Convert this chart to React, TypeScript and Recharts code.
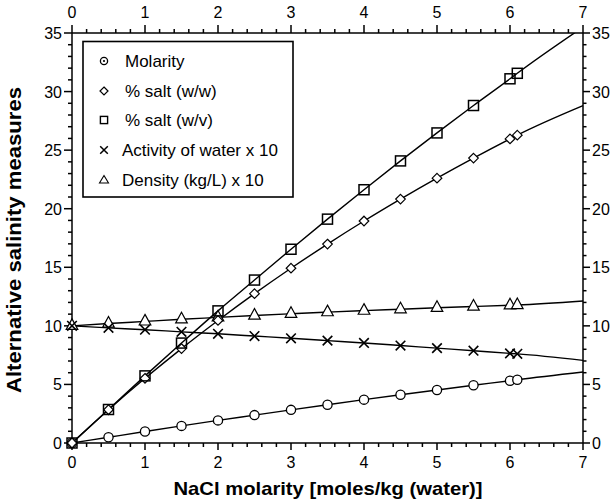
import React from 'react';
import { ComposedChart, Line, Scatter, XAxis, YAxis, Customized } from 'recharts';

// ---- data ----
const molality = [0, 0.5, 1, 1.5, 2, 2.5, 3, 3.5, 4, 4.5, 5, 5.5, 6, 6.1];
const molarity = [0, 0.49, 0.98, 1.46, 1.93, 2.38, 2.83, 3.27, 3.7, 4.12, 4.53, 4.93, 5.32, 5.4];
const saltWW = [0, 2.84, 5.52, 8.06, 10.46, 12.75, 14.92, 16.98, 18.95, 20.82, 22.61, 24.32, 25.96, 26.28];
const saltWV = [0, 2.86, 5.73, 8.53, 11.28, 13.91, 16.54, 19.11, 21.62, 24.08, 26.47, 28.81, 31.09, 31.56];
const activity10 = [10, 9.83, 9.67, 9.49, 9.32, 9.13, 8.94, 8.74, 8.54, 8.32, 8.1, 7.88, 7.65, 7.61];
const density10 = [10, 10.2, 10.38, 10.56, 10.72, 10.88, 11.03, 11.17, 11.3, 11.42, 11.54, 11.65, 11.76, 11.78];

// fitted curves extend to x = 7
const curveEndX = 7;
const curveEnd = { molarity: 6.06, ww: 28.8, wv: 35.5, aw: 7.05, dens: 12.12 };

const xMajorTicks = [0, 1, 2, 3, 4, 5, 6, 7];
const yMajorTicks = [0, 5, 10, 15, 20, 25, 30, 35];

const legendLabels = ['Molarity', '% salt (w/w)', '% salt (w/v)', 'Activity of water x 10', 'Density (kg/L) x 10'];
const xTitle = 'NaCl molarity [moles/kg (water)]';
const yTitle = 'Alternative salinity measures';

// ---- derived tables ----
const points = molality.map((x, i) => ({
  x,
  molarity: molarity[i],
  ww: saltWW[i],
  wv: saltWV[i],
  aw: activity10[i],
  dens: density10[i],
}));
const curves = [...points, { x: curveEndX, ...curveEnd }];

// minor tick positions (every 0.2 on x, every 1 on y)
const xTicks: number[] = [];
for (let k = 0; k <= 35; k++) xTicks.push(Math.round(k * 2) / 10);
const yTicks: number[] = [];
for (let k = 0; k <= 35; k++) yTicks.push(k);

const isMajorX = (v: number) => xMajorTicks.some((m) => Math.abs(m - v) < 1e-6);
const isMajorY = (v: number) => yMajorTicks.some((m) => Math.abs(m - v) < 1e-6);

// tick-mark anchor tables (placed through the chart's own scales)
const bottomTickPts = xTicks.map((v) => ({ x: v, v: 0, major: isMajorX(v) }));
const topTickPts = xTicks.map((v) => ({ x: v, v: 35, major: isMajorX(v) }));
const leftTickPts = yTicks.map((v) => ({ x: 0, v, major: isMajorY(v) }));
const rightTickPts = yTicks.map((v) => ({ x: 7, v, major: isMajorY(v) }));

const FONT = '"Liberation Sans", Arial, Helvetica, sans-serif';
const SW = 1.4;
const TW = 1.5;

// ---- tick labels only (tick marks are drawn by the scatter layers below) ----
const BottomLabel = (p: any) => {
  const { x, y, payload } = p;
  if (!isMajorX(Number(payload.value))) return <g />;
  return (
    <text x={x} y={y + 25} textAnchor="middle" fontSize={16} fontFamily={FONT} fill="#000">
      {payload.value}
    </text>
  );
};
const TopLabel = (p: any) => {
  const { x, y, payload } = p;
  if (!isMajorX(Number(payload.value))) return <g />;
  return (
    <text x={x} y={y - 15} textAnchor="middle" fontSize={16} fontFamily={FONT} fill="#000">
      {payload.value}
    </text>
  );
};
const LeftLabel = (p: any) => {
  const { x, y, payload } = p;
  if (!isMajorY(Number(payload.value))) return <g />;
  return (
    <text x={x - 10} y={y + 6} textAnchor="end" fontSize={16} fontFamily={FONT} fill="#000">
      {payload.value}
    </text>
  );
};
const RightLabel = (p: any) => {
  const { x, y, payload } = p;
  if (!isMajorY(Number(payload.value))) return <g />;
  return (
    <text x={x + 9} y={y + 6} textAnchor="start" fontSize={16} fontFamily={FONT} fill="#000">
      {payload.value}
    </text>
  );
};

// ---- tick mark shapes ----
const BottomMark = (p: any) => {
  const len = p.payload && p.payload.major ? 7 : 4;
  return <line x1={p.cx} y1={p.cy} x2={p.cx} y2={p.cy + len} stroke="#000" strokeWidth={TW} />;
};
const TopMark = (p: any) => {
  const len = p.payload && p.payload.major ? 8 : 4;
  return <line x1={p.cx} y1={p.cy} x2={p.cx} y2={p.cy - len} stroke="#000" strokeWidth={TW} />;
};
const LeftMark = (p: any) => {
  const len = p.payload && p.payload.major ? 8 : 4;
  return <line x1={p.cx} y1={p.cy} x2={p.cx - len} y2={p.cy} stroke="#000" strokeWidth={TW} />;
};
const RightMark = (p: any) => {
  const len = p.payload && p.payload.major ? 7 : 3.5;
  return <line x1={p.cx} y1={p.cy} x2={p.cx + len} y2={p.cy} stroke="#000" strokeWidth={TW} />;
};

// ---- markers ----
const CircleMark = (p: any) => (
  <circle cx={p.cx} cy={p.cy} r={4.6} fill="#fff" stroke="#000" strokeWidth={1.3} />
);
const DiamondMark = (p: any) => {
  const { cx, cy } = p;
  const h = 4.8;
  return (
    <path d={`M${cx},${cy - h}L${cx + h},${cy}L${cx},${cy + h}L${cx - h},${cy}Z`} fill="#fff" stroke="#000" strokeWidth={1.2} />
  );
};
const SquareMark = (p: any) => {
  const { cx, cy } = p;
  const h = 5;
  return <rect x={cx - h} y={cy - h} width={2 * h} height={2 * h} fill="none" stroke="#000" strokeWidth={1.5} />;
};
const CrossMark = (p: any) => {
  const { cx, cy } = p;
  const h = 4.8;
  return (
    <path d={`M${cx - h},${cy - h}L${cx + h},${cy + h}M${cx - h},${cy + h}L${cx + h},${cy - h}`} stroke="#000" strokeWidth={1.6} fill="none" />
  );
};
const TriangleMark = (p: any) => {
  const { cx, cy } = p;
  return (
    <path d={`M${cx},${cy - 7}L${cx + 5.8},${cy + 3.6}L${cx - 5.8},${cy + 3.6}Z`} fill="#fff" stroke="#000" strokeWidth={1.2} />
  );
};

// ---- overlay: legend and axis titles ----
const Overlay = () => {
  const rowsY = [61, 91, 120, 150, 180];
  const sx = 104;
  const textX = [125, 125, 125, 122, 122];
  return (
    <g fontFamily={FONT}>
      <rect x={83} y={41.5} width={210} height={155.5} fill="#fff" stroke="#000" strokeWidth={1.6} />
      <circle cx={sx} cy={rowsY[0]} r={3.6} fill="none" stroke="#000" strokeWidth={1.3} />
      <circle cx={sx} cy={rowsY[0]} r={1.1} fill="#000" />
      <path d={`M${sx},${rowsY[1] - 4}L${sx + 4},${rowsY[1]}L${sx},${rowsY[1] + 4}L${sx - 4},${rowsY[1]}Z`} fill="none" stroke="#000" strokeWidth={1.2} />
      <rect x={sx - 3.6} y={rowsY[2] - 3.6} width={7.2} height={7.2} fill="none" stroke="#000" strokeWidth={1.4} />
      <path d={`M${sx - 3.8},${rowsY[3] - 3.8}L${sx + 3.8},${rowsY[3] + 3.8}M${sx - 3.8},${rowsY[3] + 3.8}L${sx + 3.8},${rowsY[3] - 3.8}`} stroke="#000" strokeWidth={1.5} />
      <path d={`M${sx},${rowsY[4] - 4.5}L${sx + 4.5},${rowsY[4] + 3}L${sx - 4.5},${rowsY[4] + 3}Z`} fill="none" stroke="#000" strokeWidth={1.1} />
      {legendLabels.map((t, i) => (
        <text key={t} x={textX[i]} y={rowsY[i] + 6} fontSize={17} fill="#000">
          {t}
        </text>
      ))}
      <text x={328} y={495} textAnchor="middle" fontSize={19} fontWeight="bold" fill="#000" textLength={309} lengthAdjust="spacingAndGlyphs">
        {xTitle}
      </text>
      <text
        x={0}
        y={0}
        transform="translate(21,240) rotate(-90)"
        textAnchor="middle"
        fontSize={20}
        fontWeight="bold"
        fill="#000"
        textLength={306}
        lengthAdjust="spacingAndGlyphs"
      >
        {yTitle}
      </text>
    </g>
  );
};

export default function App() {
  const lineProps = {
    type: 'monotone' as const,
    stroke: '#000',
    strokeWidth: SW,
    dot: false,
    activeDot: false,
    isAnimationActive: false,
  };
  const axisLine = { stroke: '#000', strokeWidth: 1.5 };
  return (
    <div style={{ position: 'absolute', left: 0, top: 0, width: 613, height: 504, background: '#fff' }}>
      <ComposedChart width={613} height={504} data={curves} margin={{ top: 0, right: 0, bottom: 0, left: 0 }}>
        <XAxis
          xAxisId="b"
          dataKey="x"
          type="number"
          orientation="bottom"
          domain={[0, 7]}
          ticks={xTicks}
          interval={0}
          height={61}
          tickSize={0}
          tickMargin={0}
          tickLine={false}
          axisLine={axisLine}
          tick={BottomLabel}
        />
        <XAxis
          xAxisId="t"
          dataKey="x"
          type="number"
          orientation="top"
          domain={[0, 7]}
          ticks={xTicks}
          interval={0}
          height={33}
          tickSize={0}
          tickMargin={0}
          tickLine={false}
          axisLine={axisLine}
          tick={TopLabel}
        />
        <YAxis
          yAxisId="l"
          type="number"
          orientation="left"
          domain={[0, 35]}
          ticks={yTicks}
          interval={0}
          width={72}
          tickSize={0}
          tickMargin={0}
          tickLine={false}
          axisLine={axisLine}
          tick={LeftLabel}
          allowDataOverflow
        />
        <YAxis
          yAxisId="r"
          type="number"
          orientation="right"
          domain={[0, 35]}
          ticks={yTicks}
          interval={0}
          width={30}
          tickSize={0}
          tickMargin={0}
          tickLine={false}
          axisLine={axisLine}
          tick={RightLabel}
        />

        <Line xAxisId="b" yAxisId="l" dataKey="molarity" {...lineProps} />
        <Line xAxisId="b" yAxisId="l" dataKey="ww" {...lineProps} />
        <Line xAxisId="b" yAxisId="l" dataKey="wv" {...lineProps} />
        <Line xAxisId="b" yAxisId="l" dataKey="aw" {...lineProps} />
        <Line xAxisId="b" yAxisId="l" dataKey="dens" {...lineProps} />

        {/* axis tick marks (major + minor) */}
        <Scatter xAxisId="t" yAxisId="r" data={bottomTickPts} dataKey="v" shape={BottomMark} isAnimationActive={false} />
        <Scatter xAxisId="t" yAxisId="r" data={topTickPts} dataKey="v" shape={TopMark} isAnimationActive={false} />
        <Scatter xAxisId="t" yAxisId="r" data={leftTickPts} dataKey="v" shape={LeftMark} isAnimationActive={false} />
        <Scatter xAxisId="t" yAxisId="r" data={rightTickPts} dataKey="v" shape={RightMark} isAnimationActive={false} />

        <Scatter xAxisId="t" yAxisId="r" data={points} dataKey="dens" shape={TriangleMark} isAnimationActive={false} />
        <Scatter xAxisId="t" yAxisId="r" data={points} dataKey="aw" shape={CrossMark} isAnimationActive={false} />
        <Scatter xAxisId="t" yAxisId="r" data={points} dataKey="molarity" shape={CircleMark} isAnimationActive={false} />
        <Scatter xAxisId="t" yAxisId="r" data={points} dataKey="ww" shape={DiamondMark} isAnimationActive={false} />
        <Scatter xAxisId="t" yAxisId="r" data={points} dataKey="wv" shape={SquareMark} isAnimationActive={false} />

        <Customized component={Overlay} />
      </ComposedChart>
    </div>
  );
}
